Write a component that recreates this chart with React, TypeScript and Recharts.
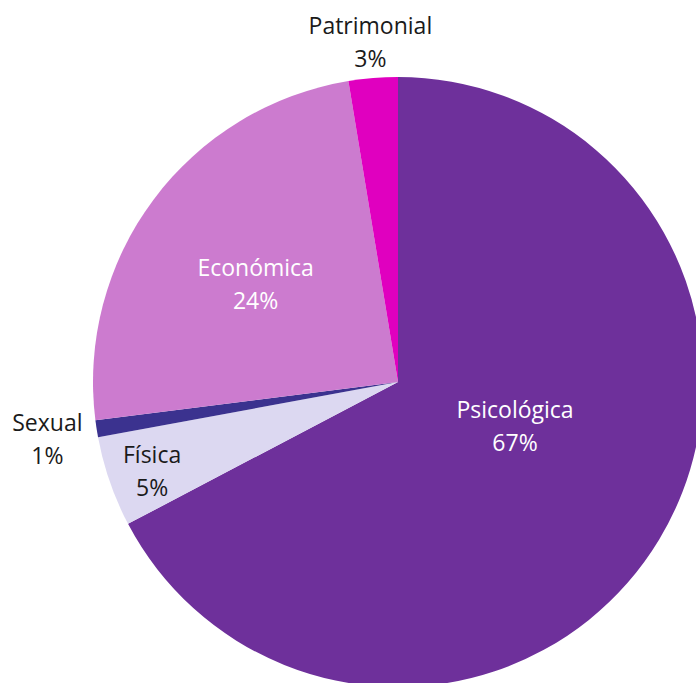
import React from "react";
import { PieChart, Pie, Cell } from "recharts";

const categories = ["Psicológica", "Física", "Sexual", "Económica", "Patrimonial"];
const values = [67.3, 4.8, 0.9, 24.4, 2.6];
const percentLabels = ["67%", "5%", "1%", "24%", "3%"];
const colors = ["#6e309b", "#dcd8f1", "#3b328f", "#cc7bcf", "#e000bf"];
const labelColors = ["#ffffff", "#1a1a1a", "#1a1a1a", "#ffffff", "#1a1a1a"];
// label placement: radial fraction of outer radius, and pixel nudge
const labelRadius = [0.41, 0.86, 1.17, 0.57, 1.11];
const labelNudge = [[10, -21], [2, 3], [2, 2], [-3, 6], [0, -3]];

const data = categories.map((name, i) => ({ name, value: values[i] }));

const RAD = Math.PI / 180;

const renderLabel = (props: any) => {
  const { cx, cy, midAngle, outerRadius, index } = props;
  const r = outerRadius * labelRadius[index];
  const x = cx + r * Math.cos(-midAngle * RAD) + labelNudge[index][0];
  const y = cy + r * Math.sin(-midAngle * RAD) + labelNudge[index][1];
  return (
    <text
      x={x}
      y={y}
      textAnchor="middle"
      fill={labelColors[index]}
      fontFamily="'Open Sans', 'Noto Sans', sans-serif"
      fontSize={23}
    >
      <tspan x={x} dy={-8}>{categories[index]}</tspan>
      <tspan x={x} dy={33}>{percentLabels[index]}</tspan>
    </text>
  );
};

export default function App() {
  return (
    <div style={{ position: "absolute", left: 0, top: 0, width: 696, height: 683, background: "#fff", overflow: "hidden" }}>
      <PieChart width={696} height={683} margin={{ top: 0, right: 0, bottom: 0, left: 0 }}>
        <Pie
          data={data}
          dataKey="value"
          nameKey="name"
          cx={398}
          cy={382}
          outerRadius={305}
          startAngle={90}
          endAngle={-270}
          stroke="none"
          label={renderLabel}
          labelLine={false}
          isAnimationActive={false}
        >
          {data.map((d, i) => (
            <Cell key={d.name} fill={colors[i]} />
          ))}
        </Pie>
      </PieChart>
    </div>
  );
}
